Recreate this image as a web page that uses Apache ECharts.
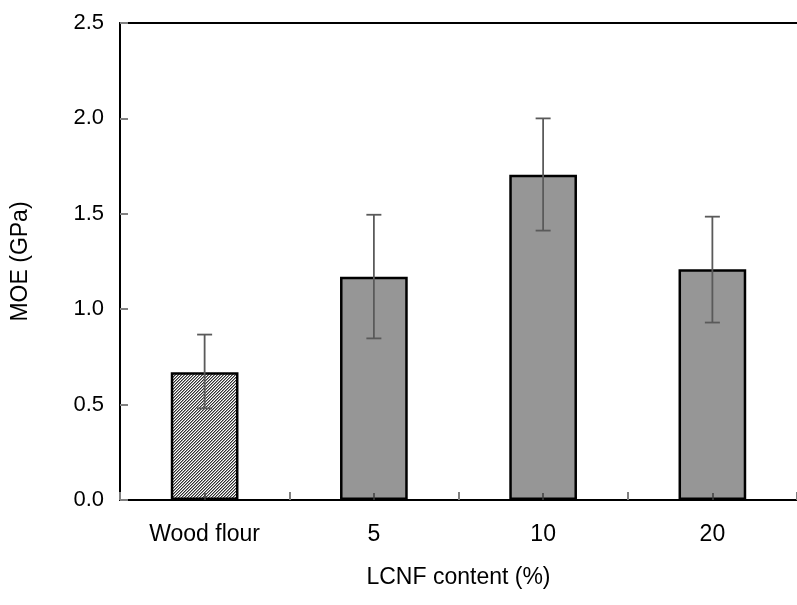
<!DOCTYPE html>
<html>
<head>
<meta charset="utf-8">
<script src="https://cdn.jsdelivr.net/npm/echarts@6/dist/echarts.min.js"></script>
<style>
html,body{margin:0;padding:0;background:#fff;}
#c{width:797px;height:605px;}
</style>
</head>
<body>
<div id="c"></div>
<script>
// ---- data ----
var categories = ['Wood flour', '5', '10', '20'];
var moe = [0.67, 1.17, 1.705, 1.21];
var errUp = [0.197, 0.325, 0.295, 0.275];
var errDown = [0.19, 0.323, 0.293, 0.28];
var yTicks = [0, 0.5, 1.0, 1.5, 2.0, 2.5];

// fine diagonal hatch pattern for the first bar
function makeHatch() {
  var n = 3;
  var c = document.createElement('canvas');
  c.width = n; c.height = n;
  var g = c.getContext('2d');
  var img = g.createImageData(n, n);
  var shades = [50, 150, 255];
  for (var y = 0; y < n; y++) {
    for (var x = 0; x < n; x++) {
      var s = shades[(x + y) % n];
      var k = (y * n + x) * 4;
      img.data[k] = s; img.data[k + 1] = s; img.data[k + 2] = s; img.data[k + 3] = 255;
    }
  }
  g.putImageData(img, 0, 0);
  return c;
}
var hatch = makeHatch();

var chart = echarts.init(document.getElementById('c'), null, {renderer: 'canvas'});
var font = "'Liberation Sans', Arial, sans-serif";
var fs = 23;

var barData = moe.map(function (v, i) {
  var item = {value: v};
  if (i === 0) {
    item.itemStyle = {color: {image: hatch, repeat: 'repeat'}};
  }
  return item;
});

var errData = moe.map(function (v, i) {
  return [i, v + errUp[i], v - errDown[i]];
});

chart.setOption({
  animation: false,
  grid: {left: 120, top: 23, width: 688, height: 477, containLabel: false},
  xAxis: [{
    type: 'category',
    data: categories,
    position: 'bottom',
    boundaryGap: true,
    axisLine: {show: true, lineStyle: {color: '#000', width: 2}},
    axisTick: {show: true, inside: true, length: 8, lineStyle: {color: '#808080', width: 2}},
    axisLabel: {color: '#000', fontSize: fs, fontFamily: font, margin: 23},
    name: 'LCNF content (%)',
    nameLocation: 'middle',
    nameGap: 66,
    nameTextStyle: {color: '#000', fontSize: fs, fontFamily: font},
    splitLine: {show: false}
  }, {
    type: 'category',
    data: categories,
    position: 'bottom',
    gridIndex: 0,
    z: 10,
    axisLine: {show: false},
    axisTick: {show: true, inside: true, alignWithLabel: true, length: 7, lineStyle: {color: '#404040', width: 1.5}},
    axisLabel: {show: false},
    splitLine: {show: false}
  }, {
    type: 'category',
    data: categories,
    position: 'top',
    axisLine: {show: true, lineStyle: {color: '#000', width: 2}},
    axisTick: {show: false},
    axisLabel: {show: false},
    splitLine: {show: false}
  }],
  yAxis: {
    type: 'value',
    min: 0,
    max: 2.5,
    interval: 0.5,
    axisLine: {show: true, lineStyle: {color: '#000', width: 2}},
    axisTick: {show: true, inside: true, length: 8, lineStyle: {color: '#808080', width: 2}},
    axisLabel: {
      color: '#000', fontSize: 22, fontFamily: font, margin: 16,
      formatter: function (v) { return yTicks.indexOf(v) >= 0 ? v.toFixed(1) : ''; }
    },
    splitLine: {show: false},
    name: 'MOE (GPa)',
    nameLocation: 'middle',
    nameGap: 88,
    nameRotate: 90,
    nameTextStyle: {color: '#000', fontSize: fs, fontFamily: font}
  },
  series: [{
    type: 'bar',
    xAxisIndex: 0,
    data: barData,
    barWidth: '40%',
    itemStyle: {color: '#969696', borderColor: '#000', borderWidth: 2.5},
    z: 2
  }, {
    type: 'custom',
    xAxisIndex: 0,
    data: errData,
    z: 5,
    renderItem: function (params, api) {
      var x = api.value(0);
      var top = api.coord([x, api.value(1)]);
      var bot = api.coord([x, api.value(2)]);
      var hw = 7.5;
      var st = {stroke: '#5a5a5a', lineWidth: 1.8};
      return {
        type: 'group',
        children: [
          {type: 'line', shape: {x1: top[0], y1: top[1], x2: bot[0], y2: bot[1]}, style: st},
          {type: 'line', shape: {x1: top[0] - hw, y1: top[1], x2: top[0] + hw, y2: top[1]}, style: st},
          {type: 'line', shape: {x1: bot[0] - hw, y1: bot[1], x2: bot[0] + hw, y2: bot[1]}, style: st}
        ]
      };
    }
  }]
});
</script>
</body>
</html>
